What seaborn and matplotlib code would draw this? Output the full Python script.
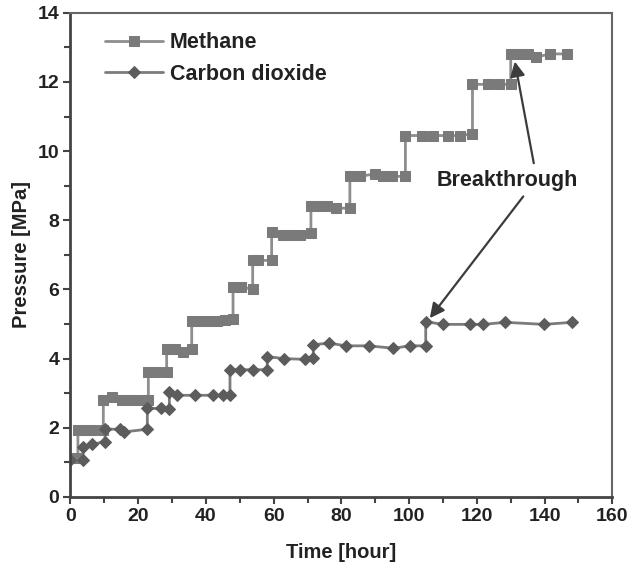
import seaborn as sns
import matplotlib.pyplot as plt
import pandas as pd
from matplotlib.ticker import MultipleLocator

# values
methane_t = [0, 2.2, 2.2, 4.4, 6.4, 9.7, 9.7, 12.2, 15.1, 17.6, 20.0, 23.0, 23.0, 25.4, 28.4,
             28.4, 30.8, 33.3, 35.8, 35.8, 38.2, 40.7, 43.2, 45.6, 48.0, 48.0, 50.5, 53.8,
             53.8, 55.5, 59.4, 59.4, 62.9, 64.9, 67.9, 71.0, 71.0, 73.2, 75.6, 78.4, 82.5,
             82.5, 85.5, 89.9, 92.3, 94.8, 98.9, 98.9, 103.7, 107.1, 111.5, 115.0, 118.7,
             118.7, 123.3, 126.6, 130.0, 130.0, 132.5, 135.1, 137.6, 141.6, 146.5]
methane_p = [1.12, 1.12, 1.93, 1.93, 1.93, 1.93, 2.80, 2.88, 2.80, 2.80, 2.80, 2.80, 3.60, 3.60, 3.60,
             4.27, 4.27, 4.20, 4.27, 5.08, 5.08, 5.08, 5.08, 5.12, 5.14, 6.08, 6.08, 6.00,
             6.84, 6.84, 6.84, 7.65, 7.58, 7.58, 7.58, 7.62, 8.40, 8.40, 8.40, 8.35, 8.35,
             9.27, 9.27, 9.34, 9.27, 9.27, 9.27, 10.45, 10.45, 10.45, 10.45, 10.45, 10.50,
             11.93, 11.93, 11.93, 11.93, 12.81, 12.81, 12.81, 12.72, 12.81, 12.81]

co2_t = [0, 3.7, 3.7, 6.3, 10.2, 10.2, 14.6, 15.8, 22.7, 22.7, 26.6, 29.2, 29.2, 31.5, 36.8,
         42.0, 45.1, 47.1, 47.1, 50.0, 54.0, 58.1, 58.1, 63.0, 69.2, 71.7, 71.7, 76.3, 81.3,
         88.2, 95.3, 100.2, 104.9, 104.9, 109.9, 118.1, 121.9, 128.3, 139.8, 148.2]
co2_p = [1.07, 1.07, 1.45, 1.52, 1.60, 1.96, 1.96, 1.88, 1.96, 2.56, 2.56, 2.54, 3.04, 2.94, 2.94,
         2.94, 2.94, 2.94, 3.68, 3.68, 3.68, 3.68, 4.06, 4.00, 3.98, 4.01, 4.40, 4.45, 4.37,
         4.37, 4.30, 4.37, 4.37, 5.07, 4.99, 4.99, 4.99, 5.05, 4.99, 5.05]

series_names = ["Methane", "Carbon dioxide"]
note_text = "Breakthrough"
note_pos = (128.9, 9.15)
arrow_tips = [(131.2, 12.59), (106.1, 5.17)]
arrow_tails = [(136.8, 9.65), (133.7, 8.69)]

sns.set_style("ticks")
plt.rcParams['font.family'] = ['Liberation Sans', 'DejaVu Sans']
plt.rcParams['font.weight'] = 'bold'

fig = plt.figure(figsize=(6.36, 5.67), dpi=100)
ax = fig.add_axes([0.1108, 0.1235, 0.852, 0.854])

df_m = pd.DataFrame({"t": methane_t, "p": methane_p})
df_c = pd.DataFrame({"t": co2_t, "p": co2_p})

sns.lineplot(data=df_m, x="t", y="p", ax=ax, estimator=None, sort=False,
             color="#8e8e8e", lw=2, marker="s", markersize=6.5,
             markerfacecolor="#7a7a7a", markeredgecolor="#7a7a7a", label=series_names[0])
sns.lineplot(data=df_c, x="t", y="p", ax=ax, estimator=None, sort=False,
             color="#7c7c7c", lw=2, marker="D", markersize=6.5,
             markerfacecolor="#5c5c5c", markeredgecolor="#5c5c5c", label=series_names[1])

ax.text(note_pos[0], note_pos[1], note_text, ha="center", va="center",
        fontsize=15.5, fontweight="bold", color="#222222")
for tip, tail in zip(arrow_tips, arrow_tails):
    ax.annotate("", xy=tip, xytext=tail,
                arrowprops=dict(arrowstyle="-|>", mutation_scale=22, lw=1.6,
                                color="#3c3c3c", shrinkA=0, shrinkB=0))

ax.set_xlim(0, 160)
ax.set_ylim(0, 14)
ax.xaxis.set_major_locator(MultipleLocator(20))
ax.xaxis.set_minor_locator(MultipleLocator(10))
ax.yaxis.set_major_locator(MultipleLocator(2))
ax.yaxis.set_minor_locator(MultipleLocator(1))
ax.tick_params(which="major", length=5, width=1.5, color="#444444",
               labelsize=14, labelcolor="#222222", pad=3)
ax.tick_params(which="minor", length=4, width=1.5, color="#444444")

for s in ["top", "right"]:
    ax.spines[s].set_color("#666666")
    ax.spines[s].set_linewidth(1.5)
for s in ["left", "bottom"]:
    ax.spines[s].set_color("#444444")
    ax.spines[s].set_linewidth(2)

ax.set_xlabel("Time [hour]", fontsize=14.5, fontweight="bold", color="#222222", labelpad=13)
ax.set_ylabel("Pressure [MPa]", fontsize=14.5, fontweight="bold", color="#222222", labelpad=5)

leg = ax.legend(loc="upper left", bbox_to_anchor=(0.064, 0.96), frameon=False,
                fontsize=15.5, handlelength=2.7, handletextpad=0.3, labelspacing=0.5,
                borderaxespad=0, borderpad=0)
for txt in leg.get_texts():
    txt.set_color("#222222")

plt.savefig("out.png", dpi=100)
